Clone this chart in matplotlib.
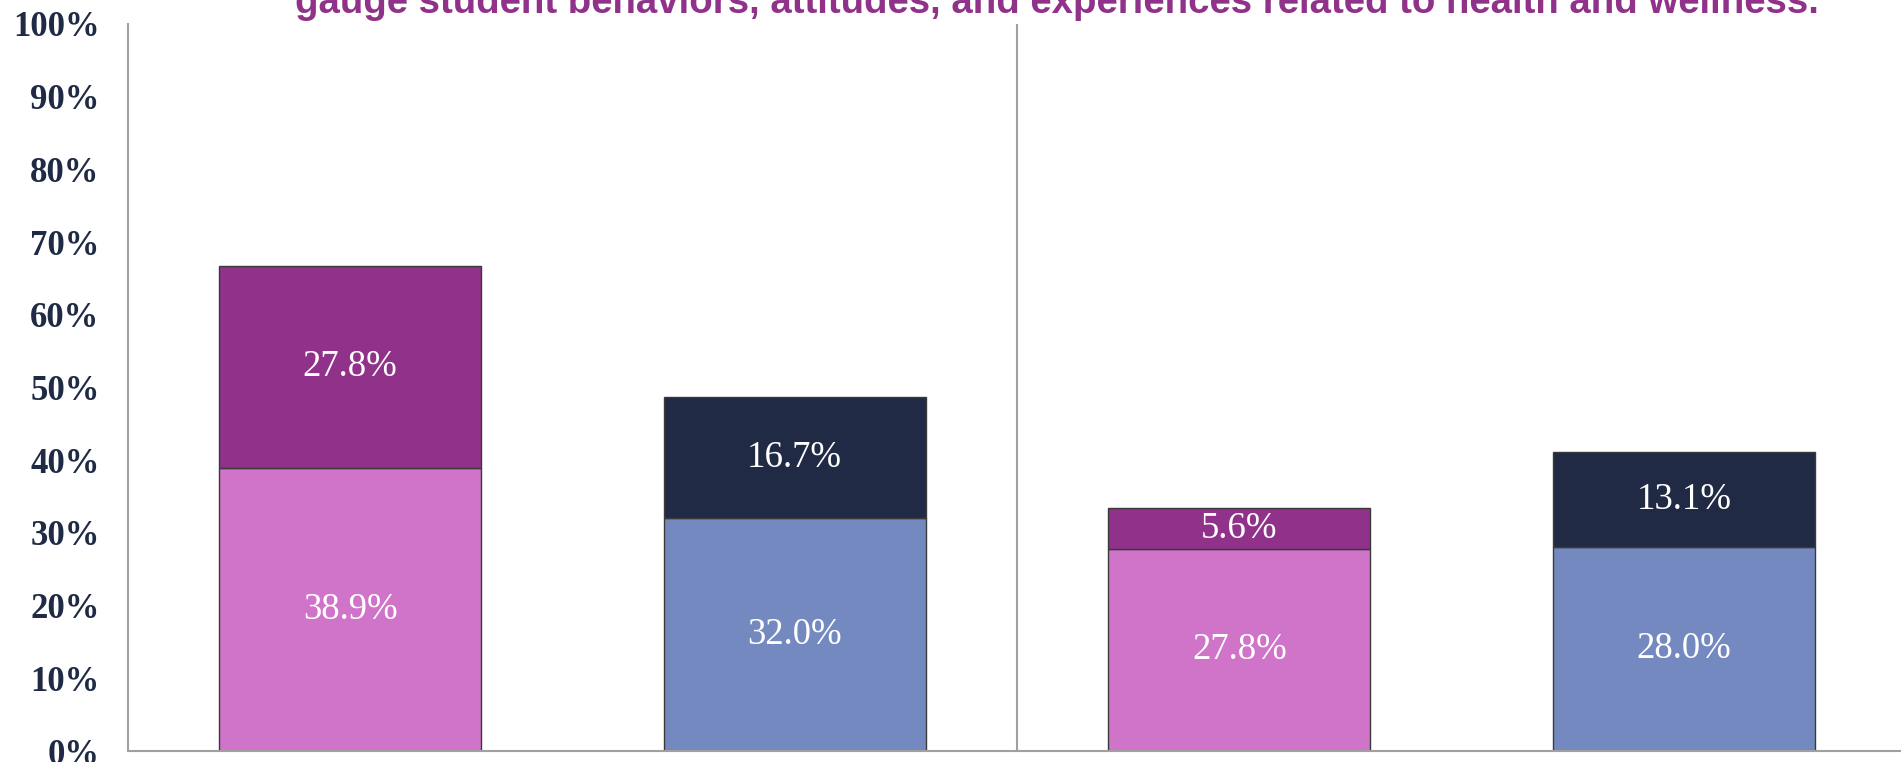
import matplotlib.pyplot as plt
import numpy as np
from matplotlib.ticker import PercentFormatter

# values (percent)
groups = ['A', 'B', 'C', 'D']
base_vals = [38.9, 32.0, 27.8, 28.0]
top_vals = [27.8, 16.7, 5.6, 13.1]
base_colors = ['#CF74C8', '#7489C0', '#CF74C8', '#7489C0']
top_colors = ['#90318A', '#212A44', '#90318A', '#212A44']
yticks = np.arange(0, 101, 10)

title = 'gauge student behaviors, attitudes, and experiences related to health and wellness.'

fig = plt.figure(figsize=(19.01, 7.62), dpi=100)
ax = fig.add_axes([128/1901, 11/762, 1778/1901, 727/762])

ind = np.arange(len(groups))
width = 0.59
b1 = ax.bar(ind, base_vals, width, color=base_colors, edgecolor='#3a3a3a', linewidth=1)
b2 = ax.bar(ind, top_vals, width, bottom=base_vals, color=top_colors, edgecolor='#3a3a3a', linewidth=1)

for bars, vals, bottoms in [(b1, base_vals, [0]*4), (b2, top_vals, base_vals)]:
    for rect, v, b in zip(bars, vals, bottoms):
        ax.text(rect.get_x() + rect.get_width()/2, b + v/2, '%.1f%%' % v,
                ha='center', va='center', color='white', fontsize=26.5,
                family='Liberation Serif')

# divider between the two halves
ax.axvline(1.5, color='#a0a0a0', linewidth=1.5)

ax.set_xlim(-0.5, 3.5)
ax.set_ylim(0, 100)
ax.set_yticks(yticks)
ax.yaxis.set_major_formatter(PercentFormatter(decimals=0))
ax.set_xticks([])
for lbl in ax.get_yticklabels():
    lbl.set_family('Liberation Serif')
    lbl.set_fontweight('bold')
    lbl.set_fontsize(25)
    lbl.set_color('#1F2A44')
ax.tick_params(axis='y', length=0, pad=20.5)

for s in ['top', 'right']:
    ax.spines[s].set_visible(False)
for s in ['left', 'bottom']:
    ax.spines[s].set_color('#a0a0a0')
    ax.spines[s].set_linewidth(1.5)

fig.text(1057/1901, 1 - 13/762, title, ha='center', va='baseline',
         fontsize=27.6, fontweight='bold', color='#90318A',
         family=['Liberation Sans Narrow', 'Liberation Sans'])

fig.savefig('out.png', dpi=100)
